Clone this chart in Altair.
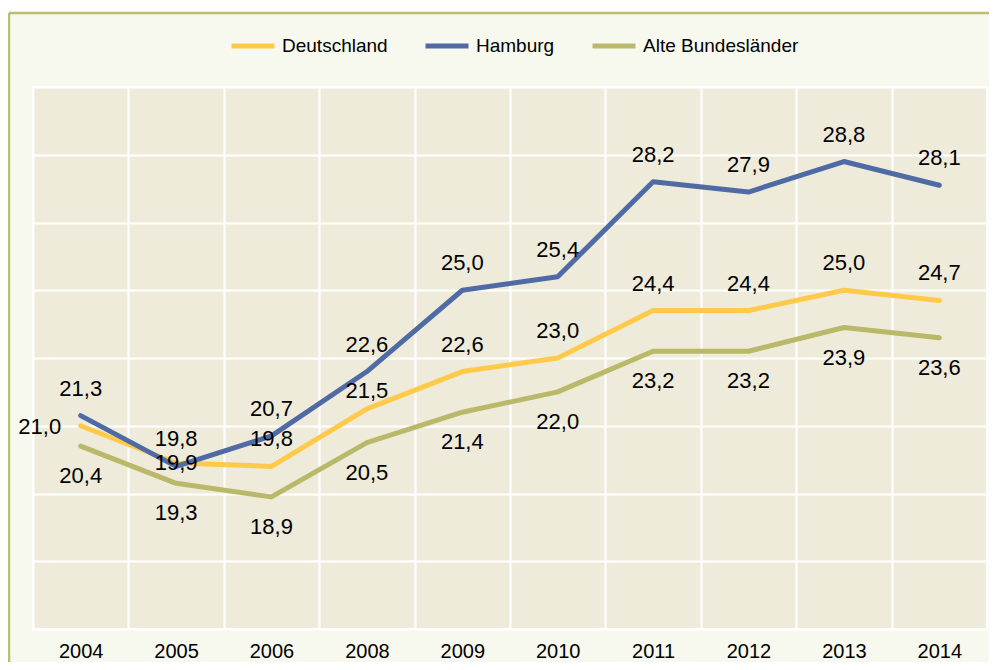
import altair as alt
import pandas as pd

years = ["2004", "2005", "2006", "2008", "2009", "2010", "2011", "2012", "2013", "2014"]
deutschland = [21.0, 19.9, 19.8, 21.5, 22.6, 23.0, 24.4, 24.4, 25.0, 24.7]
hamburg = [21.3, 19.8, 20.7, 22.6, 25.0, 25.4, 28.2, 27.9, 28.8, 28.1]
alte_bl = [20.4, 19.3, 18.9, 20.5, 21.4, 22.0, 23.2, 23.2, 23.9, 23.6]

series_names = ["Deutschland", "Hamburg", "Alte Bundesländer"]
series_values = [deutschland, hamburg, alte_bl]
series_colors = ["#FFC94A", "#4F6AA5", "#B9B969"]

# label placement (style): default offset per series, plus a few overrides
label_dy = {"Deutschland": -27, "Hamburg": -27, "Alte Bundesländer": 30}
label_override = {("Deutschland", "2004"): (-41, 1),
                  ("Deutschland", "2005"): (0, 0),
                  ("Deutschland", "2008"): (0, -18)}

rows = []
for name, vals in zip(series_names, series_values):
    for y, v in zip(years, vals):
        dx, dy = label_override.get((name, y), (0, label_dy[name]))
        rows.append({"year": y, "series": name, "value": v,
                     "label": f"{v:.1f}".replace(".", ","), "dx": dx, "dy": dy})
df = pd.DataFrame(rows)

W, H = 954, 542
FONT = "Liberation Sans"

x_scale = alt.Scale(type="band", paddingInner=0, paddingOuter=0, domain=years)
y_scale = alt.Scale(domain=[15, 31], nice=False, zero=False)

x_enc = alt.X("year:N", sort=years, bandPosition=0.5, scale=x_scale,
              axis=alt.Axis(title=None, tickBand="extent", grid=True, gridColor="white",
                            gridWidth=2, gridOpacity=1, domain=False, ticks=False,
                            labelAngle=0, labelFontSize=20, labelFont=FONT,
                            labelColor="black", labelPadding=12))
y_enc = alt.Y("value:Q", scale=y_scale,
              axis=alt.Axis(title=None, values=list(range(15, 32, 2)), labels=False,
                            ticks=False, domain=False, grid=True, gridColor="white",
                            gridWidth=2, gridOpacity=1))

lines = alt.Chart(df).mark_line(strokeWidth=5, strokeCap="round", strokeJoin="round").encode(
    x=x_enc, y=y_enc,
    color=alt.Color("series:N",
                    scale=alt.Scale(domain=series_names, range=series_colors),
                    legend=alt.Legend(title=None, orient="none", direction="horizontal",
                                      legendX=196, legendY=-65, symbolType="stroke",
                                      symbolStrokeWidth=5, symbolSize=1849,
                                      labelFontSize=19, labelFont=FONT, labelColor="black",
                                      columnPadding=27, labelOffset=5, padding=0)),
    detail="series:N",
)

label_layers = []
for (dx, dy), sub in df.groupby(["dx", "dy"]):
    label_layers.append(
        alt.Chart(sub).mark_text(fontSize=22, font=FONT, color="black", baseline="middle",
                                 align="center", dx=int(dx), dy=int(dy)).encode(
            x=alt.X("year:N", sort=years, bandPosition=0.5),
            y=alt.Y("value:Q"),
            text="label:N",
        )
    )

one = pd.DataFrame({"k": [0]})
top_strip = alt.Chart(one).mark_rect(fill="white").encode(
    x=alt.value(-26), x2=alt.value(W + 10), y=alt.value(-80), y2=alt.value(-74))
frame_top = alt.Chart(one).mark_rule(color="#BDBD72", strokeWidth=2.5).encode(
    x=alt.value(-24), x2=alt.value(W + 10), y=alt.value(-74))
frame_left = alt.Chart(one).mark_rule(color="#BDBD72", strokeWidth=2.5).encode(
    x=alt.value(-24), y=alt.value(-74), y2=alt.value(H + 40))

chart = alt.layer(top_strip, frame_top, frame_left, lines, *label_layers).properties(
    width=W, height=H,
    autosize=alt.AutoSizeParams(type="none"),
    padding={"left": 25, "top": 79, "right": 2, "bottom": 33},
    background="#F8F9EE",
).configure_view(
    fill="#EEEBDA", stroke="white", strokeWidth=2
)

chart.save("out.html", embed_options={"renderer": "svg", "actions": False})
